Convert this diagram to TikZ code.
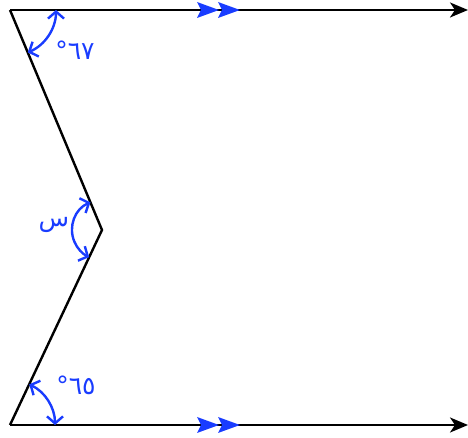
\documentclass[tikz,border=0pt]{standalone}
\usepackage{fontspec}
\TeXXeTstate=1
\newfontfamily\arabicfont[Script=Arabic]{DejaVu Sans}
\usetikzlibrary{arrows.meta}
\definecolor{myblue}{RGB}{25,60,255}
\tikzset{
  edge/.style={line width=2.4pt, black},
  mainarrow/.style={-{Stealth[length=18pt,width=15pt,inset=5pt]}},
  anglearc/.style={myblue, line width=2.4pt, {Straight Barb[length=7pt,width=16pt]}-{Straight Barb[length=7pt,width=16pt]}},
  lbl/.style={text=myblue, font=\arabicfont\fontsize{25}{28}\selectfont, inner sep=0pt},
  parmark/.style={fill=myblue}
}
\begin{document}
\begin{tikzpicture}[x=1pt,y=1pt]
\useasboundingbox (0,0) rectangle (468,438);
\coordinate (A) at (10,428);
\coordinate (T) at (468,428);
\coordinate (M) at (102,208);
\coordinate (B) at (10,13);
\coordinate (R) at (468,13);
% lines
\draw[edge, mainarrow] (A) -- (T);
\draw[edge, mainarrow] (B) -- (R);
\draw[edge, line join=miter] (A) -- (M) -- (B);
% parallel marks
\foreach \y in {428,13}{
  \fill[parmark] (219,\y) -- (197,\y+8) -- (201,\y) -- (197,\y-8) -- cycle;
  \fill[parmark] (240,\y) -- (218,\y+8) -- (222,\y) -- (218,\y-8) -- cycle;
}
% angle arcs
\draw[anglearc] ([shift={(0:46)}]A) arc[start angle=0, end angle=-67.3, radius=46];
\draw[anglearc] ([shift={(112.7:30)}]M) arc[start angle=112.7, end angle=244.7, radius=30];
\draw[anglearc] ([shift={(0:45)}]B) arc[start angle=0, end angle=64.7, radius=45];
% labels
\node[lbl] (l1) at (75,388) {٦٧°};
\node[lbl] (l2) at (54,213) {\beginR س\endR};
\node[lbl] (l3) at (76,53) {٦٥°};
\end{tikzpicture}
\end{document}
